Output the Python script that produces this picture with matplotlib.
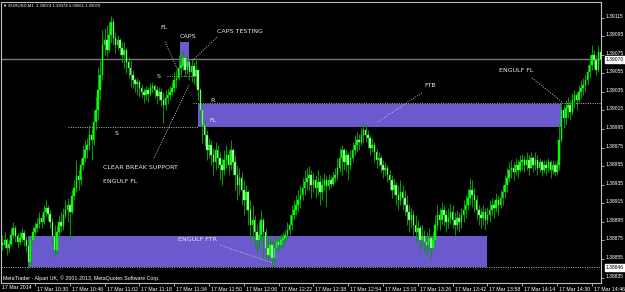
import matplotlib
matplotlib.use('Agg')
import matplotlib.pyplot as plt
import matplotlib.transforms as mtransforms
from matplotlib.patches import Rectangle
import numpy as np

plt.rcParams['font.family'] = ['Liberation Sans', 'DejaVu Sans']

# EURUSD M1, 17 Mar 2014 -- prices in points above base
base = 1.38800
pt = 1e-5

closes = [
    70, 76, 67, 71, 81, 88, 80, 73, 78, 83,
    76, 69, 52, 76, 84, 88, 93, 99, 95, 106,
    110, 104, 95, 80, 65, 84, 95, 91, 102, 108,
    113, 106, 123, 132, 144, 140, 156, 164, 172, 178,
    189, 183, 203, 216, 237, 253, 286, 291, 280, 296,
    310, 293, 286, 291, 282, 275, 280, 267, 261, 253,
    248, 243, 246, 239, 235, 232, 237, 233, 239, 241,
    237, 231, 235, 226, 221, 228, 232, 235, 239, 248,
    250, 261, 264, 272, 259, 267, 256, 263, 252, 259,
    237, 216, 199, 189, 172, 178, 167, 160, 172, 164,
    156, 151, 162, 167, 156, 172, 160, 146, 135, 142,
    129, 119, 127, 108, 92, 97, 84, 76, 81, 97,
    84, 67, 59, 70, 56, 67, 73, 70, 76, 78,
    81, 86, 92, 102, 108, 113, 119, 124, 132, 138,
    142, 146, 135, 140, 132, 138, 127, 135, 140, 134,
    140, 136, 142, 146, 153, 164, 172, 160, 167, 156,
    164, 172, 178, 183, 181, 189, 194, 189, 185, 175,
    178, 170, 162, 164, 156, 151, 153, 146, 140, 129,
    135, 124, 119, 127, 121, 113, 106, 97, 102, 92,
    84, 88, 76, 80, 73, 70, 78, 67, 76, 92,
    102, 97, 108, 102, 95, 99, 106, 97, 92, 99,
    95, 102, 108, 113, 121, 129, 124, 119, 108, 102,
    99, 106, 97, 102, 108, 113, 110, 119, 113, 121,
    127, 135, 142, 151, 153, 149, 156, 151, 160, 162,
    156, 162, 153, 164, 156, 162, 153, 160, 151, 156,
    153, 160, 151, 156, 149, 156, 183, 216, 207, 218,
    221, 213, 226, 232, 226, 235, 239, 242, 248, 256,
    264, 275, 269, 259, 278, 270,
]
highs = [
    81, 84, 78, 76, 88, 95, 92, 83, 84, 88,
    86, 80, 76, 80, 91, 95, 99, 106, 104, 113,
    119, 113, 108, 99, 92, 92, 102, 106, 110, 119,
    121, 114, 129, 140, 162, 151, 164, 178, 183, 185,
    199, 196, 216, 230, 262, 269, 302, 304, 307, 310,
    317, 315, 300, 296, 293, 289, 289, 282, 273, 269,
    259, 250, 250, 248, 244, 239, 241, 240, 245, 246,
    244, 241, 240, 239, 235, 237, 239, 241, 246, 256,
    259, 275, 278, 280, 275, 274, 269, 272, 267, 269,
    256, 239, 221, 205, 194, 185, 183, 175, 181, 178,
    170, 164, 172, 178, 172, 183, 175, 167, 156, 153,
    149, 140, 135, 129, 119, 113, 102, 92, 95, 108,
    99, 88, 78, 81, 76, 78, 80, 78, 82, 84,
    86, 95, 102, 113, 119, 124, 129, 135, 142, 151,
    153, 155, 151, 149, 146, 151, 146, 142, 148, 146,
    147, 144, 149, 153, 164, 175, 178, 175, 172, 170,
    172, 181, 189, 192, 190, 196, 203, 200, 194, 189,
    185, 181, 175, 170, 167, 162, 160, 156, 151, 146,
    142, 138, 135, 140, 135, 129, 124, 113, 110, 108,
    102, 97, 92, 92, 86, 84, 88, 81, 84, 102,
    113, 110, 116, 113, 108, 110, 114, 113, 106, 108,
    106, 110, 119, 124, 132, 142, 140, 132, 124, 113,
    110, 113, 110, 111, 119, 121, 119, 126, 124, 129,
    135, 146, 153, 160, 162, 160, 164, 162, 167, 168,
    166, 170, 167, 170, 166, 170, 167, 164, 162, 162,
    162, 164, 162, 162, 160, 162, 200, 223, 221, 226,
    230, 226, 234, 237, 235, 242, 248, 250, 253, 264,
    275, 286, 280, 275, 286, 280,
]
lows = [
    65, 67, 59, 63, 69, 78, 73, 67, 70, 73,
    69, 63, 45, 50, 73, 80, 84, 88, 88, 93,
    101, 97, 88, 71, 57, 60, 80, 84, 86, 99,
    95, 76, 104, 119, 127, 129, 135, 151, 160, 164,
    172, 162, 178, 194, 205, 226, 248, 275, 273, 278,
    288, 286, 277, 280, 275, 267, 261, 255, 250, 240,
    239, 235, 232, 230, 228, 223, 226, 224, 231, 234,
    228, 222, 226, 220, 202, 216, 222, 226, 231, 235,
    239, 248, 253, 259, 252, 254, 248, 246, 244, 241,
    226, 199, 180, 178, 162, 164, 156, 146, 151, 153,
    140, 135, 146, 153, 146, 151, 146, 129, 119, 124,
    113, 102, 108, 92, 76, 78, 70, 63, 67, 76,
    56, 54, 52, 58, 45, 49, 65, 65, 67, 69,
    71, 76, 81, 86, 97, 102, 106, 110, 119, 124,
    129, 129, 121, 127, 121, 124, 113, 119, 129, 111,
    129, 132, 134, 138, 140, 149, 146, 151, 149, 140,
    151, 160, 167, 170, 172, 178, 180, 181, 175, 167,
    170, 160, 153, 155, 149, 142, 144, 138, 129, 121,
    124, 113, 108, 113, 108, 102, 92, 84, 88, 81,
    73, 76, 65, 69, 63, 59, 65, 56, 65, 73,
    86, 86, 92, 91, 84, 88, 93, 88, 81, 86,
    84, 88, 95, 99, 108, 113, 111, 106, 97, 92,
    88, 92, 86, 93, 95, 102, 99, 106, 102, 110,
    113, 121, 127, 138, 142, 140, 146, 142, 149, 151,
    149, 151, 146, 153, 149, 151, 146, 149, 144, 148,
    146, 149, 142, 147, 144, 146, 151, 181, 196, 199,
    207, 205, 210, 218, 216, 224, 228, 232, 235, 242,
    250, 259, 261, 253, 256, 267,
]
first_open = 72

# time axis: minutes after 10:14
tick_minutes = list(range(16, 273, 16))
tick_times = ['10:30', '10:46', '11:02', '11:18', '11:34', '11:50', '12:06', '12:22',
              '12:38', '12:54', '13:10', '13:26', '13:42', '13:58', '14:14', '14:30', '14:46']
price_ticks = [1.38835 + 0.0002 * k for k in range(15)]

# zones (minutes, prices)
bottom_zone = (12.9, 224.0, 1.38846, 1.38880)
fl_zone = (91.0, 257.8, 1.38997, 1.39022)
caps_zone = (82.7, 86.8, 1.39062, 1.39089)
cur_price = 1.39070
low_line = 1.38846

levels = [  # (x0, x1, price)
    (31.2, 91.0, 1.38997),
    (76.7, 91.0, 1.39052),
    (88.6, 277.0, 1.39023),
]
leaders = [  # (x0, v0, x1, v1) in points
    (75.8, 289, 82.7, 253),
    (99.7, 294, 88.6, 269),
    (70.7, 164, 86.8, 242),
    (101.1, 70, 125.0, 51),
    (193.9, 234, 173.2, 202),
    (244.5, 250, 258.3, 224),
]
labels = [  # (x, v, text, ha)
    (75.3, 304, 'FL', 'center'),
    (86.3, 295, 'CAPS', 'center'),
    (99.7, 300, 'CAPS TESTING', 'left'),
    (73.0, 252, 'S', 'center'),
    (53.7, 190, 'S', 'center'),
    (97.8, 226, 'R', 'center'),
    (97.8, 204, 'FL', 'center'),
    (47.3, 154, 'CLEAR BREAK SUPPORT', 'left'),
    (47.3, 139, 'ENGULF FL', 'left'),
    (81.7, 76, 'ENGULF FTR', 'left'),
    (194.9, 242, 'FTB', 'left'),
    (229.3, 258, 'ENGULF FL', 'left'),
]

c = base + np.array(closes) * pt
h = base + np.array(highs) * pt
l = base + np.array(lows) * pt
o = np.r_[base + first_open * pt, c[:-1]]
x = np.arange(1, len(c) + 1)

fig = plt.figure(figsize=(6.25, 2.92), dpi=100, facecolor='black')
ax = fig.add_axes([1 / 625, 9 / 292, 600 / 625, 281 / 292], facecolor='black')
ax.set_xlim(0.37, 276.2)
ax.set_ylim(base + 29.2 * pt, base + 331.8 * pt)

# zones
for x0, x1, p0, p1 in (bottom_zone, fl_zone, caps_zone):
    ax.add_patch(Rectangle((x0, p0), x1 - x0, p1 - p0, facecolor='#6a5acd',
                           edgecolor='none', zorder=1))

ax.axhline(cur_price, color='#7a7a7a', lw=1.0, zorder=1.5)
dots = (0, (1.2, 1.6))
ax.axhline(low_line, color='#d0d0d0', lw=0.6, ls=dots, zorder=1.6)
for x0, x1, p in levels:
    ax.plot([x0, x1], [p, p], color='#d0d0d0', lw=0.6, ls=dots, zorder=1.6)

# candles
up = c >= o
ax.vlines(x, l, h, color='#00a000', lw=0.7, zorder=2)
body_lo = np.minimum(o, c)
body_h = np.maximum(np.abs(c - o), 0.4 * pt)
ax.bar(x[up], body_h[up], bottom=body_lo[up], width=0.7, color='#00ff00',
       edgecolor='#00ff00', lw=0.3, zorder=3)
ax.bar(x[~up], body_h[~up], bottom=body_lo[~up], width=0.7, color='#b4ffb4',
       edgecolor='#30e030', lw=0.3, zorder=3)

# annotations
for x0, v0, x1, v1 in leaders:
    ax.plot([x0, x1], [base + v0 * pt, base + v1 * pt], color='#d0d0d0',
            lw=0.6, ls=dots, zorder=4)
for lx, lv, txt, ha in labels:
    ax.text(lx, base + lv * pt, txt, color='#e8e8e8', fontsize=4.6, ha=ha,
            va='center', zorder=5, family=['DejaVu Sans'])

# axes styling
for s in ax.spines.values():
    s.set_color('#c0c0c0')
    s.set_linewidth(0.8)
ax.yaxis.tick_right()
ax.set_yticks(price_ticks)
ax.set_yticklabels(['%.5f' % p for p in price_ticks])
ax.set_xticks(tick_minutes)
ax.set_xticklabels(['17 Mar ' + t for t in tick_times])
ax.tick_params(axis='both', colors='#c0c0c0', labelcolor='white', labelsize=3.8,
               length=2, width=0.6, pad=1)
ax.tick_params(axis='y', labelsize=3.6)
off_y = mtransforms.ScaledTranslation(0.5 / 72, 2 / 100, fig.dpi_scale_trans)
for lab in ax.get_yticklabels():
    lab.set_transform(lab.get_transform() + off_y)
off_x = mtransforms.ScaledTranslation(2 / 100, 0, fig.dpi_scale_trans)
for lab in ax.get_xticklabels():
    lab.set_horizontalalignment('left')
    lab.set_transform(lab.get_transform() + off_x)

fig.text(2 / 625, 4.5 / 292, '17 Mar 2014', color='white', fontsize=3.8, va='center')

# price boxes on the scale
trans = mtransforms.blended_transform_factory(ax.transAxes, ax.transData)
for p in (cur_price, low_line):
    ax.text(1.0 + 5 / 600, p, '%.5f' % p, transform=trans, fontsize=3.6,
            color='black', ha='left', va='center', clip_on=False, zorder=10,
            bbox=dict(boxstyle='square,pad=0.2', facecolor='white', edgecolor='white'))

fig.text(3 / 625, 1 - 6 / 292, '\u25bc EURUSD,M1  1.39074 1.39074 1.39061 1.39070',
         color='white', fontsize=3.1, va='center', family=['Liberation Sans', 'DejaVu Sans'])
fig.text(3 / 625, (292 - 278) / 292,
         'MetaTrader - Alpari UK, \u00a9 2001-2013, MetaQuotes Software Corp.',
         color='white', fontsize=3.8, va='center')

fig.savefig('out.png', dpi=100, facecolor='black')
